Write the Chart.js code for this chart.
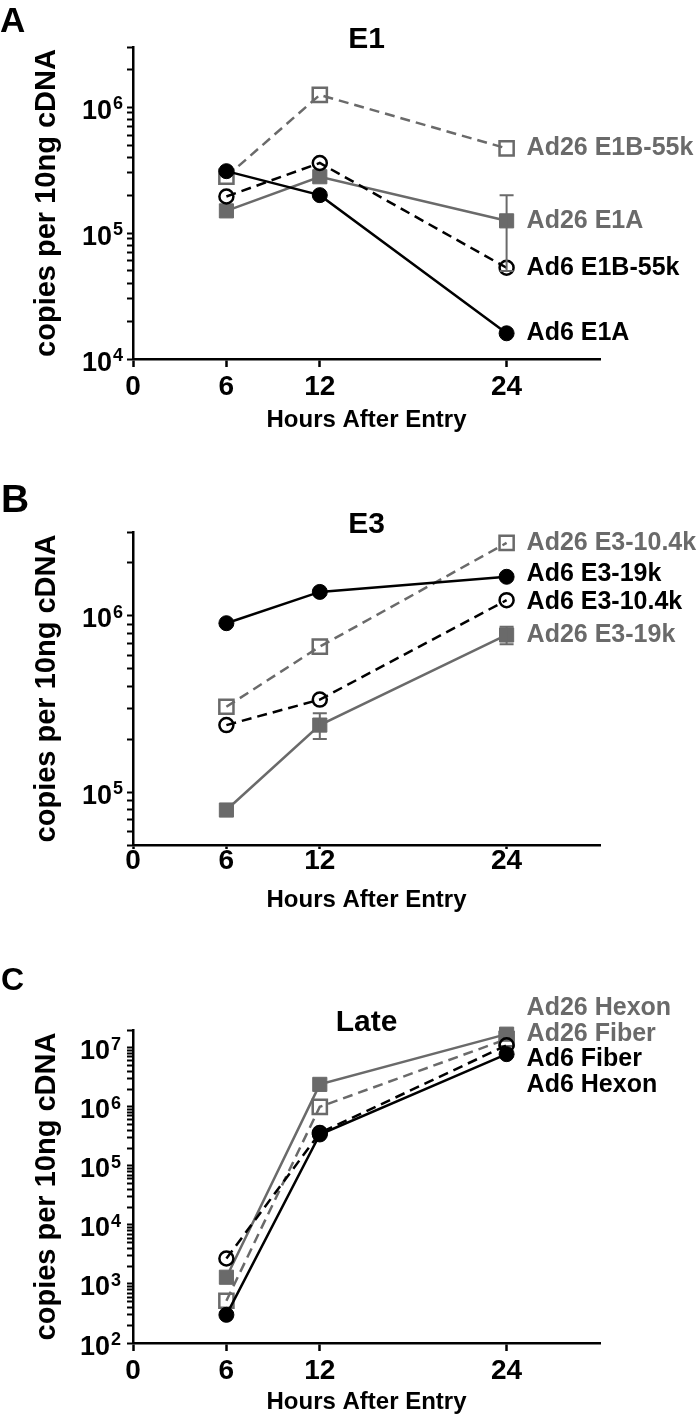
<!DOCTYPE html>
<html><head><meta charset="utf-8">
<script src="https://cdn.jsdelivr.net/npm/chart.js@4.4.1/dist/chart.umd.min.js"></script>
<style>
html,body{margin:0;padding:0;background:#fff;}
#wrap{position:relative;width:700px;height:1419px;background:#fff;}
canvas{position:absolute;left:0;}
</style></head><body>
<div id="wrap">
<canvas id="cA" width="700" height="460" style="top:0px;width:700px;height:460px"></canvas>
<canvas id="cB" width="700" height="460" style="top:460px;width:700px;height:460px"></canvas>
<canvas id="cC" width="700" height="499" style="top:920px;width:700px;height:499px"></canvas>
</div>
<script>
// ---------- data ----------
const hours = [6, 12, 24];
const xTickValues = [0, 6, 12, 24];

// Panel A: E1
const aAd6E1A      = [3.1e5, 2.0e5, 1.6e4];
const aAd6E1B55k   = [1.95e5, 3.6e5, 5.3e4];
const aAd26E1A     = [1.5e5, 2.8e5, 1.25e5];
const aAd26E1A_err = [0, 0, 7.5e4];
const aAd26E1B55k  = [2.8e5, 1.25e6, 4.7e5];
const aDecades     = [1e4, 1e5, 1e6];

// Panel B: E3
const bAd6E319k      = [9.1e5, 1.37e6, 1.67e6];
const bAd6E3104k     = [2.4e5, 3.35e5, 1.23e6];
const bAd26E3104k    = [3.05e5, 6.7e5, 2.6e6];
const bAd26E319k     = [7.9e4, 2.4e5, 7.8e5];
const bAd26E319k_err = [0, 4e4, 9e4];
const bDecades       = [1e5, 1e6];

// Panel C: Late
const cAd6Hexon  = [3.0e2, 3.4e5, 7.8e6];
const cAd6Fiber  = [2.7e3, 3.6e5, 1.1e7];
const cAd26Fiber = [5.2e2, 1.0e6, 1.4e7];
const cAd26Hexon = [1.3e3, 2.4e6, 1.7e7];
const cDecades   = [1e2, 1e3, 1e4, 1e5, 1e6, 1e7];

// ---------- styling ----------
const FONT = '"Liberation Sans", Arial, Helvetica, sans-serif';
const BLACK = '#000000';
const GRAY = '#6a6a6a';
Chart.defaults.font.family = FONT;

function series(label, vals, color, marker, dashed, errors) {
  const filled = marker === 'filledCircle' || marker === 'filledSquare';
  const square = marker === 'filledSquare' || marker === 'openSquare';
  return {
    label,
    data: hours.map((h, i) => ({x: h, y: vals[i]})),
    errors: errors || null,
    borderColor: color,
    backgroundColor: color,
    borderWidth: 2.5,
    borderDash: dashed ? [10, 6] : [],
    fill: false,
    tension: 0,
    clip: false,
    pointStyle: square ? 'rect' : 'circle',
    pointRadius: square ? 10 : (filled ? 7.5 : 7),
    pointBackgroundColor: filled ? color : 'rgba(0,0,0,0)',
    pointBorderColor: color,
    pointBorderWidth: filled ? 1 : 2.5
  };
}

function logTicks(min, max) {
  const out = [];
  const e0 = Math.floor(Math.log10(min)), e1 = Math.ceil(Math.log10(max));
  for (let e = e0; e <= e1; e++) {
    for (let d = 1; d <= 9; d++) {
      const v = d * Math.pow(10, e);
      if (v >= min * 0.999 && v <= max * 1.001) out.push(v);
    }
  }
  return out;
}

function spread(ys, gap) {
  let groups = ys.map((y, i) => ({idx: [i], c: y}));
  let changed = true;
  while (changed) {
    changed = false;
    for (let i = 0; i < groups.length - 1; i++) {
      const g1 = groups[i], g2 = groups[i + 1];
      const b1 = g1.c + (g1.idx.length - 1) * gap / 2;
      const t2 = g2.c - (g2.idx.length - 1) * gap / 2;
      if (t2 - b1 < gap) {
        const n = g1.idx.length + g2.idx.length;
        const c = (g1.c * g1.idx.length + g2.c * g2.idx.length) / n;
        groups.splice(i, 2, {idx: g1.idx.concat(g2.idx), c});
        changed = true; break;
      }
    }
  }
  const out = [];
  groups.forEach(g => g.idx.forEach((k, j) => { out[k] = g.c - (g.idx.length - 1) * gap / 2 + j * gap; }));
  return out;
}

// ---------- plugins ----------
const decadeLabels = {
  id: 'decadeLabels',
  afterDraw(chart, args, o) {
    const ys = chart.scales.y, ctx = chart.ctx;
    ctx.save();
    ctx.fillStyle = BLACK;
    ctx.textBaseline = 'alphabetic';
    o.values.forEach(v => {
      const py = ys.getPixelForValue(v);
      const exp = Math.round(Math.log10(v));
      ctx.font = 'bold 27px ' + FONT;
      ctx.textAlign = 'right';
      ctx.fillText('10', o.baseRight, py + 11.5);
      ctx.font = 'bold 18px ' + FONT;
      ctx.textAlign = 'left';
      ctx.fillText(String(exp), o.baseRight + 1, py + 2);
    });
    ctx.restore();
  }
};

const errorBars = {
  id: 'errorBars',
  afterDatasetsDraw(chart) {
    const ctx = chart.ctx, xs = chart.scales.x, ys = chart.scales.y;
    chart.data.datasets.forEach(d => {
      if (!d.errors) return;
      ctx.save();
      ctx.strokeStyle = d.borderColor;
      ctx.lineWidth = 2;
      d.data.forEach((p, i) => {
        const e = d.errors[i];
        if (!e) return;
        const x = xs.getPixelForValue(p.x);
        const yTop = ys.getPixelForValue(p.y + e);
        const yBot = ys.getPixelForValue(p.y - e);
        ctx.beginPath();
        ctx.moveTo(x, yBot); ctx.lineTo(x, yTop);
        ctx.moveTo(x - 7, yTop); ctx.lineTo(x + 7, yTop);
        ctx.moveTo(x - 7, yBot); ctx.lineTo(x + 7, yBot);
        ctx.stroke();
      });
      ctx.restore();
    });
  }
};

const annotate = {
  id: 'annotate',
  afterDraw(chart, args, o) {
    const ctx = chart.ctx, ca = chart.chartArea, xs = chart.scales.x, ys = chart.scales.y;
    ctx.save();
    // panel letter
    ctx.fillStyle = BLACK;
    ctx.textAlign = 'left';
    ctx.textBaseline = 'alphabetic';
    ctx.font = 'bold ' + o.letterSize + 'px ' + FONT;
    ctx.fillText(o.letter, o.letterX, o.letterBaseline);
    // panel title
    ctx.font = 'bold 30px ' + FONT;
    ctx.textAlign = 'center';
    ctx.textBaseline = 'middle';
    ctx.fillText(o.title, (ca.left + ca.right) / 2, ca.top - 7);
    // series labels at the last point
    const items = chart.data.datasets.map(d => {
      const last = d.data[d.data.length - 1];
      return {d, y: ys.getPixelForValue(last.y), x: xs.getPixelForValue(last.x)};
    }).sort((a, b) => a.y - b.y);
    const pos = spread(items.map(it => it.y), o.gap);
    ctx.font = 'bold ' + o.labelSize + 'px ' + FONT;
    ctx.textAlign = 'left';
    items.forEach((it, i) => {
      ctx.fillStyle = it.d.borderColor;
      ctx.fillText(it.d.label, it.x + o.dx, pos[i] + o.dy);
    });
    ctx.restore();
  }
};

function makeChart(id, c) {
  const tickList = logTicks(c.yMin, c.yMax);
  return new Chart(document.getElementById(id), {
    type: 'line',
    data: {datasets: c.datasets},
    options: {
      responsive: false,
      animation: false,
      devicePixelRatio: 1,
      layout: {padding: {top: c.top, left: 0, right: 100, bottom: 0}},
      plugins: {
        legend: {display: false},
        tooltip: {enabled: false},
        title: {display: false},
        decadeLabels: {values: c.decades, baseRight: c.baseRight},
        annotate: {letter: c.letter, letterSize: c.letterSize, letterX: c.letterX, letterBaseline: c.letterBaseline,
                   title: c.title, gap: c.gap, dx: 20, dy: c.dy, labelSize: 25}
      },
      scales: {
        x: {
          type: 'linear', min: 0, max: 30,
          afterBuildTicks: s => { s.ticks = xTickValues.map(v => ({value: v})); },
          afterFit: s => { s.height = c.xH; },
          ticks: {font: {size: 28, weight: 'bold', family: FONT}, color: BLACK, padding: c.xTickPad,
                  autoSkip: false, maxRotation: 0, callback: v => String(v)},
          grid: {drawOnChartArea: false, drawTicks: true, tickLength: c.xTickLen, tickWidth: 2.5, tickColor: BLACK},
          border: {display: true, color: BLACK, width: 2.5},
          title: {display: true, text: 'Hours After Entry', color: BLACK,
                  font: {size: 24, weight: 'bold', family: FONT}, padding: {top: 0, bottom: c.xTitlePad}}
        },
        y: {
          type: 'logarithmic', min: c.yMin, max: c.yMax,
          afterBuildTicks: s => { s.ticks = tickList.map(v => ({value: v})); },
          afterFit: s => { s.width = 133; },
          ticks: {autoSkip: false, callback: () => ''},
          grid: {drawOnChartArea: false, drawTicks: true, tickLength: 6, tickWidth: 2, tickColor: BLACK},
          border: {display: true, color: BLACK, width: 2.5},
          title: {display: true, text: 'copies per 10ng cDNA', color: BLACK,
                  font: {size: 29, weight: 'bold', family: FONT}, padding: {top: 30, bottom: 0}}
        }
      }
    },
    plugins: [decadeLabels, errorBars, annotate]
  });
}

// Panel A
makeChart('cA', {
  datasets: [
    series('Ad6 E1A', aAd6E1A, BLACK, 'filledCircle', false),
    series('Ad6 E1B-55k', aAd6E1B55k, BLACK, 'openCircle', true),
    series('Ad26 E1A', aAd26E1A, GRAY, 'filledSquare', false, aAd26E1A_err),
    series('Ad26 E1B-55k', aAd26E1B55k, GRAY, 'openSquare', true)
  ],
  yMin: 1e4, yMax: 3e6, decades: aDecades, baseRight: 112,
  top: 47, xH: 101, xTickLen: 8, xTickPad: 3, xTitlePad: 25.6,
  letter: 'A', letterSize: 35, letterX: 0, letterBaseline: 32,
  title: 'E1', gap: 28, dy: 0
});

// Panel B
makeChart('cB', {
  datasets: [
    series('Ad6 E3-19k', bAd6E319k, BLACK, 'filledCircle', false),
    series('Ad6 E3-10.4k', bAd6E3104k, BLACK, 'openCircle', true),
    series('Ad26 E3-19k', bAd26E319k, GRAY, 'filledSquare', false, bAd26E319k_err),
    series('Ad26 E3-10.4k', bAd26E3104k, GRAY, 'openSquare', true)
  ],
  yMin: 5e4, yMax: 3e6, decades: bDecades, baseRight: 112,
  top: 72, xH: 75, xTickLen: 4, xTickPad: -5, xTitlePad: 5.6,
  letter: 'B', letterSize: 39, letterX: 1, letterBaseline: 52,
  title: 'E3', gap: 28, dy: 0
});

// Panel C
makeChart('cC', {
  datasets: [
    series('Ad6 Hexon', cAd6Hexon, BLACK, 'filledCircle', false),
    series('Ad6 Fiber', cAd6Fiber, BLACK, 'openCircle', true),
    series('Ad26 Hexon', cAd26Hexon, GRAY, 'filledSquare', false),
    series('Ad26 Fiber', cAd26Fiber, GRAY, 'openSquare', true)
  ],
  yMin: 1e2, yMax: 2e7, decades: cDecades, baseRight: 110,
  top: 110, xH: 76, xTickLen: 8, xTickPad: 3, xTitlePad: 2.6,
  letter: 'C', letterSize: 32, letterX: 1, letterBaseline: 70,
  title: 'Late', gap: 25.5, dy: 3.5
});
</script>
</body></html>
